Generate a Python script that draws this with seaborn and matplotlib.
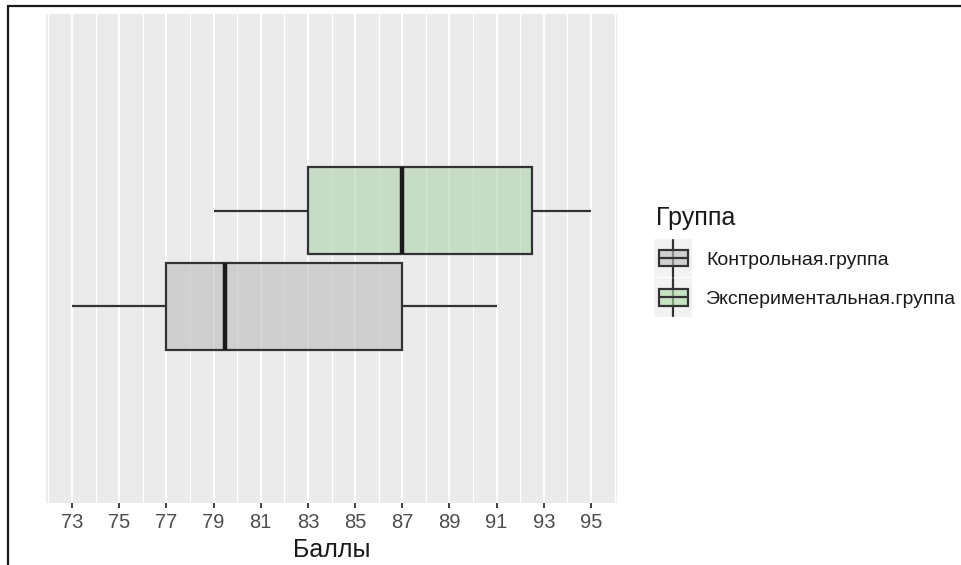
import numpy as np
import pandas as pd
import matplotlib
matplotlib.use("Agg")
import matplotlib.pyplot as plt
from matplotlib.lines import Line2D
from matplotlib.patches import Rectangle
from matplotlib.legend_handler import HandlerBase
from matplotlib.colors import to_rgba
import seaborn as sns

# ---- data (five-number summaries) ----
groups = ["Контрольная.группа", "Экспериментальная.группа"]
control_scores = [73, 77, 79.5, 87, 91]
experimental_scores = [79, 83, 87, 92.5, 95]
x_ticks = [73, 75, 77, 79, 81, 83, 85, 87, 89, 91, 93, 95]
x_label = "Баллы"
legend_title = "Группа"

fill_colors = {groups[0]: "#BEBEBE", groups[1]: "#ABDBA7"}
fill_alpha = 0.62
edge = "#333333"

df = pd.DataFrame({
    "score": control_scores + experimental_scores,
    "group": [groups[0]] * len(control_scores) + [groups[1]] * len(experimental_scores),
    "cat": ["all"] * (len(control_scores) + len(experimental_scores)),
})

sns.set_theme(style="darkgrid")
plt.rcParams["font.family"] = ["Liberation Sans", "DejaVu Sans"]

fig = plt.figure(figsize=(9.61, 5.65), dpi=100)
ax = fig.add_axes([46 / 961, 1 - 503 / 565, 571 / 961, 489 / 565])
ax.set_facecolor("#EBEBEB")

sns.boxplot(
    data=df, x="score", y="cat", hue="group", orient="h",
    hue_order=[groups[1], groups[0]], palette=fill_colors,
    width=0.5, gap=0.094, whis=1.5, showcaps=False, ax=ax,
    linecolor=edge, linewidth=1.6,
    medianprops=dict(color="#1A1A1A", linewidth=3.2),
    whiskerprops=dict(color=edge, linewidth=1.6),
    legend=False,
)
for p in ax.patches:
    fc = p.get_facecolor()
    p.set_facecolor((fc[0], fc[1], fc[2], fill_alpha))
    p.set_zorder(2)

ax.set_ylim(0.637, -0.637)
ax.set_xlim(71.9, 96.1)
ax.set_xticks(x_ticks)
ax.set_xticks(np.arange(72, 97, 2), minor=True)
ax.grid(which="major", axis="x", color="white", linewidth=1.4)
ax.grid(which="minor", axis="x", color="white", linewidth=0.8)
ax.grid(which="both", axis="y", visible=False)
ax.set_axisbelow(True)
ax.set_yticks([])
ax.set_ylabel("")
ax.set_xlabel(x_label, fontsize=18, color="#1A1A1A", labelpad=4)
ax.tick_params(axis="x", which="major", length=3.5, width=1.3, color="#333333",
               labelsize=14.5, labelcolor="#4D4D4D", pad=4, bottom=True)
ax.tick_params(axis="x", which="minor", length=0)
for s in ax.spines.values():
    s.set_visible(False)


class BoxHandler(HandlerBase):
    def __init__(self, color):
        super().__init__()
        self.color = color

    def create_artists(self, legend, orig_handle, xdescent, ydescent,
                       width, height, fontsize, trans):
        arts = []
        bg = Rectangle((-xdescent - 1, -ydescent - 8), width + 2, height + 16,
                       facecolor="#F2F2F2", edgecolor="none", transform=trans)
        arts.append(bg)
        cx = -xdescent + width / 2
        y0 = -ydescent
        arts.append(Line2D([cx, cx], [y0 - 7.5, y0 + height + 7.5], color=edge,
                           linewidth=1.6, transform=trans))
        r = Rectangle((-xdescent + 2, y0), width - 4, height,
                      facecolor=to_rgba(self.color, fill_alpha), edgecolor=edge,
                      linewidth=1.6, transform=trans)
        arts.append(r)
        arts.append(Line2D([-xdescent + 2, -xdescent + width - 2],
                           [y0 + height / 2, y0 + height / 2],
                           color=edge, linewidth=1.6, transform=trans))
        return arts


handles = [Rectangle((0, 0), 1, 1), Rectangle((0, 1), 1, 1)]
leg = fig.legend(
    handles, groups, title=legend_title,
    handler_map={handles[0]: BoxHandler(fill_colors[groups[0]]),
                 handles[1]: BoxHandler(fill_colors[groups[1]])},
    loc="center left", bbox_to_anchor=(648 / 961, 1 - 257 / 565),
    frameon=False, fontsize=14, title_fontsize=18, alignment="left",
    handlelength=1.8, handleheight=0.9, labelspacing=1.05, handletextpad=0.8,
    borderaxespad=0,
)
leg.get_title().set_color("#1A1A1A")
for t in leg.get_texts():
    t.set_color("#1A1A1A")

# image frame (top and left border)
fig.add_artist(Line2D([7.5 / 961, 1], [1 - 5.5 / 565, 1 - 5.5 / 565],
                      color="#1A1A1A", linewidth=1.6, transform=fig.transFigure))
fig.add_artist(Line2D([7.5 / 961, 7.5 / 961], [0, 1 - 5.5 / 565],
                      color="#1A1A1A", linewidth=1.6, transform=fig.transFigure))

fig.savefig("out.png", dpi=100)
